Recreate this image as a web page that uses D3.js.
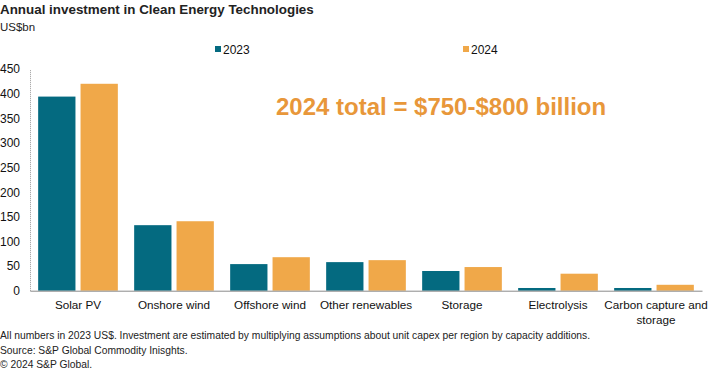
<!DOCTYPE html>
<html><head><meta charset="utf-8">
<script src="https://cdn.jsdelivr.net/npm/d3@7"></script>
<style>body{margin:0;background:#fff;} svg{display:block;font-family:"Liberation Sans",Arial,sans-serif;}</style>
</head><body>
<svg id="c" width="711" height="369"></svg>
<script>
const categories = ["Solar PV","Onshore wind","Offshore wind","Other renewables","Storage","Electrolysis","Carbon capture and storage"];
const series = ["2023","2024"];
const values2023 = [394,133,54,58,40,5.5,5.5];
const values2024 = [420,141,68,62,48,34.5,12];
const yTicks = [0,50,100,150,200,250,300,350,400,450];
const colors = ["#046A80","#F0A849"];

const svg = d3.select("#c");
const x = d3.scaleBand().domain(categories).range([30,702]).paddingInner(0.17).paddingOuter(0.085);
const xs = d3.scaleBand().domain(series).range([0,x.bandwidth()]).paddingInner(0.12);
const y = d3.scaleLinear().domain([0,450]).range([290.7,69]);

// title
svg.append("text").attr("x",0).attr("y",14).attr("font-size",13.4).attr("font-weight","bold").attr("fill","#222").text("Annual investment in Clean Energy Technologies");
svg.append("text").attr("x",0).attr("y",31).attr("font-size",11.5).attr("fill","#222").text("US$bn");

// legend
const leg = [{k:"2023",x:218},{k:"2024",x:466}];
leg.forEach((l,i)=>{
  svg.append("rect").attr("x",l.x-3).attr("y",46).attr("width",6).attr("height",6).attr("fill",colors[i]);
  svg.append("text").attr("x",l.x+5).attr("y",53.5).attr("font-size",12).attr("fill","#111").text(l.k);
});

// y axis
const yAxis = d3.axisLeft(y).tickValues(yTicks).tickSize(0).tickPadding(10);
const ya = svg.append("g").attr("transform","translate(30,0)").call(yAxis);
ya.select(".domain").attr("stroke","#999").attr("stroke-dasharray","1,1");
ya.selectAll("text").attr("font-size",12).attr("fill","#111").attr("font-family","Liberation Sans,Arial,sans-serif");

// bars
const data = categories.map((c,i)=>({c, v:[values2023[i],values2024[i]]}));
const g = svg.append("g");
data.forEach(d=>{
  series.forEach((s,j)=>{
    g.append("rect").attr("x",x(d.c)+xs(s)).attr("width",xs.bandwidth())
     .attr("y",y(d.v[j])).attr("height",y(0)-y(d.v[j])).attr("fill",colors[j]);
  });
});

// x axis
const xAxis = d3.axisBottom(x).tickSize(0).tickPadding(10);
const xa = svg.append("g").attr("transform",`translate(0,${y(0)})`).call(xAxis);
xa.select(".domain").attr("stroke","#8a8a8a");
xa.selectAll("text").attr("font-size",11.7).attr("fill","#111").attr("font-family","Liberation Sans,Arial,sans-serif")
  .each(function(d){
    if(d==="Carbon capture and storage"){
      const t=d3.select(this); t.text(null);
      t.append("tspan").attr("x",2).attr("dy","0.71em").text("Carbon capture and");
      t.append("tspan").attr("x",2).attr("dy","1.25em").text("storage");
      t.attr("dy",null);
    }
  });

// annotation
svg.append("text").attr("x",276).attr("y",115).attr("font-size",24).attr("font-weight","bold").attr("fill","#E8973A").text("2024 total = $750-$800 billion");

// footnotes
const notes = ["All numbers in 2023 US$. Investment are estimated by multiplying assumptions about unit capex per region by capacity additions.","Source: S&P Global Commodity Inisghts.","© 2024 S&P Global."];
notes.forEach((n,i)=>svg.append("text").attr("x",0).attr("y",339+i*14.5).attr("font-size",10.3).attr("fill","#222").text(n));
</script>
</body></html>
